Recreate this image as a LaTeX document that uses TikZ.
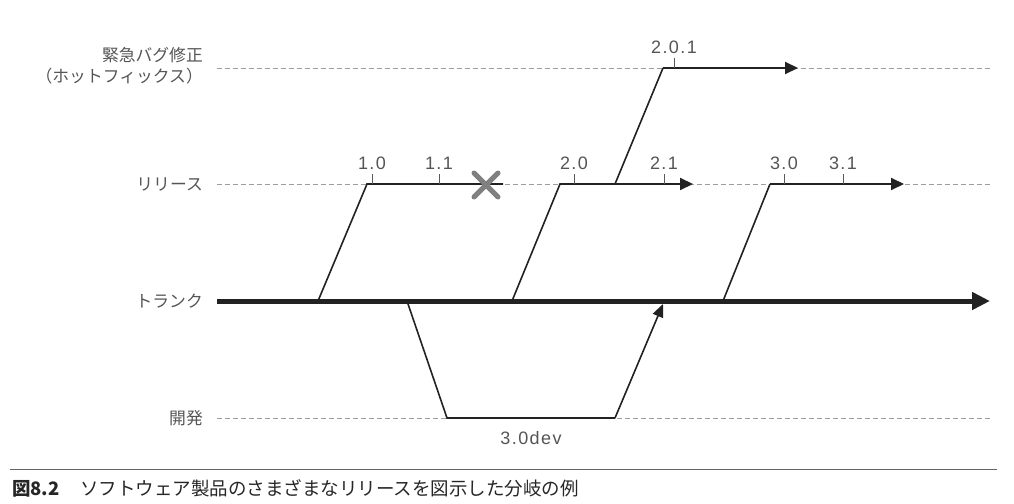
\documentclass[tikz,border=0pt]{standalone}
\usepackage{fontspec}
\setmainfont{Noto Sans CJK JP}
\newfontfamily\numfont[LetterSpace=8]{Liberation Sans}
\usetikzlibrary{arrows.meta}

\definecolor{ink}{HTML}{222222}
\definecolor{txt}{HTML}{555555}

\begin{document}
\begin{tikzpicture}[x=1pt,y=-1pt,
						% styles for lanes, branches and labels
						lane label/.style={anchor=east, inner sep=0pt, text=txt, font=\fontsize{16.8}{21}\selectfont},
						lane/.style={dash pattern=on 4.5pt off 3.5pt, line width=0.8pt, black!38},
						branch/.style={line width=1.6pt, ink},
						release/.style={line width=2pt, ink, -{Triangle[length=13pt, width=12pt]}},
						tick/.style={line width=0.9pt, black!65},
						ver/.style={inner sep=0pt, text=txt, font=\numfont\fontsize{18}{20}\selectfont}
						]
						\useasboundingbox (0,0) rectangle (1014,503);
						
						% --- lane labels ---
						\node[lane label] (hot a) at (203,55) {緊急バグ修正};
						\node[lane label] (hot b) at (203,76) {（ホットフィックス）};
						\node[lane label] (rel) at (203,184) {リリース};
						\node[lane label] (trunk) at (203,301) {トランク};
						\node[lane label] (dev) at (203,418) {開発};
						
						% --- dashed lanes ---
						\coordinate (hot s) at (217,68);  \coordinate (hot e) at (991,68);
						\coordinate (rel s) at (217,184); \coordinate (rel e) at (991,184);
						\coordinate (dev s) at (217,418); \coordinate (dev e) at (991,418);
						\draw[lane] (hot s) -- (hot e);
						\draw[lane] (rel s) -- (rel e);
						\draw[lane] (dev s) -- (dev e);
						
						% --- trunk ---
						\coordinate (tr s) at (217,301);
						\coordinate (tr e) at (990,301);
						\draw[line width=5pt, ink, -{Triangle[length=18pt, width=17pt]}] (tr s) -- (tr e);
						
						% --- release 1.x ---
						\coordinate (t1) at (318,301);
						\coordinate (r1) at (367,184);
						\coordinate (r1 e) at (503,184);
						\draw[branch] (t1) -- (r1) -- (r1 e);
						\draw[line width=5pt, line cap=round, black!50] (474,173) -- (498,197) (474,197) -- (498,173);
						
						% --- release 2.x and hotfix ---
						\coordinate (t2) at (512,301);
						\coordinate (r2) at (560,184);
						\coordinate (r2 h) at (615,184);
						\coordinate (r2 e) at (693,184);
						\coordinate (h1) at (663,68);
						\coordinate (h1 e) at (798,68);
						\draw[branch] (t2) -- (r2) -- (r2 h);
						\draw[release] (r2 h) -- (r2 e);
						\draw[branch] (r2 h) -- (h1);
						\draw[release] (h1) -- (h1 e);
						
						% --- release 3.x ---
						\coordinate (t3) at (723,301);
						\coordinate (r3) at (770,184);
						\coordinate (r3 e) at (904,184);
						\draw[branch] (t3) -- (r3);
						\draw[release] (r3) -- (r3 e);
						
						% --- development branch ---
						\coordinate (td) at (407,301);
						\coordinate (d1) at (447,418);
						\coordinate (d2) at (615,418);
						\coordinate (d e) at (663,304);
						\draw[branch] (td) -- (d1) -- (d2);
						\draw[branch, -{Triangle[length=13pt, width=11pt]}] (d2) -- (d e);
						\node[ver] (v30dev) at (531,438) {3.0dev};
						
						% --- version ticks ---
						\foreach \nm/\x/\y/\lbl in {v10/372/184/1.0, v11/439/184/1.1, v20/574/184/2.0, v21/664/184/2.1,
							v30/784/184/3.0, v31/843/184/3.1, v201/674/68/2.0.1} {
							\coordinate (k\nm) at (\x,\y);
							\draw[tick] (k\nm) -- ++(0,-10) node[ver, anchor=south, yshift=4pt] (\nm) {\lbl};
						}
						
						% --- caption ---
						\coordinate (cap l) at (10,469);
						\coordinate (cap r) at (997,469);
						\draw[line width=1pt, black!60] (cap l) -- (cap r);
						\node[anchor=west, inner sep=0pt, text=black!85, font=\fontsize{18.5}{22}\selectfont] (cap) at (12,488)
						{{\bfseries 図8.2}\hspace{1.1em}ソフトウェア製品のさまざまなリリースを図示した分岐の例};
					\end{tikzpicture}
\end{document}
